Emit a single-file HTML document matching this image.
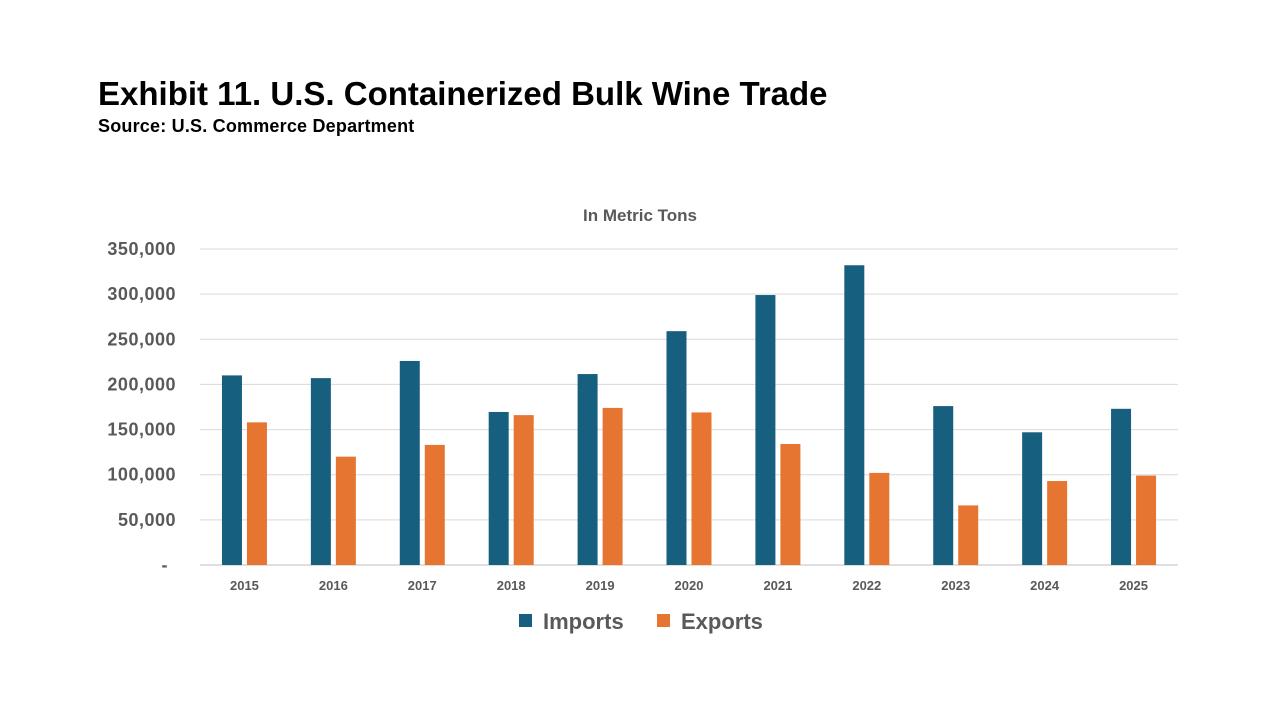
<!DOCTYPE html>
<html><head><meta charset="utf-8"><style>
body{margin:0;background:#fff;font-family:"Liberation Sans",Arial,sans-serif;}
#wrap{position:relative;width:1280px;height:720px;overflow:hidden;}
</style></head><body>
<div id="wrap">
<div style="position:absolute;left:98px;top:75px;font-size:33px;font-weight:bold;color:#000;letter-spacing:0px;">Exhibit 11. U.S. Containerized Bulk Wine Trade</div>
<div style="position:absolute;left:98px;top:116px;font-size:18px;font-weight:bold;color:#000;letter-spacing:0.2px;">Source: U.S. Commerce Department</div>
<svg id="chart" width="1280" height="720" style="position:absolute;left:0;top:0"></svg>
</div>
<script>
const categories=["2015","2016","2017","2018","2019","2020","2021","2022","2023","2024","2025"];
const imports=[210000,207000,226000,169500,211500,259000,299000,332000,176000,147000,173000];
const exportsV=[158000,120000,133000,166000,174000,169000,134000,102000,66000,93000,99000];
const ticks=[0,50000,100000,150000,200000,250000,300000,350000];
const tickLabels=["-","50,000","100,000","150,000","200,000","250,000","300,000","350,000"];
const NS="http://www.w3.org/2000/svg";
const svg=document.getElementById('chart');
const x0=200,x1=1178,yBase=565,yTop=249,yMax=350000;
const y=v=>yBase-(v/yMax)*(yBase-yTop);
const band=(x1-x0)/categories.length;
const cx=i=>x0+band*(i+0.5);
function mk(t,a){const e=document.createElementNS(NS,t);for(const k in a)e.setAttribute(k,a[k]);svg.appendChild(e);return e;}
const ct=mk('text',{x:640,y:221,'text-anchor':'middle','font-size':17,'font-weight':'bold',fill:'#595959','font-family':'Liberation Sans, Arial, sans-serif'});
ct.textContent='In Metric Tons';


ticks.forEach((t,i)=>{
 const l=mk('line',{x1:x0,x2:x1,y1:y(t),y2:y(t),stroke:i==0?'#bfbfbf':'#d9d9d9','stroke-width':1});
 
 
 const tx=mk('text',{x:i==0?168:176,y:y(t)+6,'text-anchor':'end','font-size':18,'font-weight':'bold',fill:'#595959','font-family':'Liberation Sans, Arial, sans-serif','letter-spacing':'0.5'});
 tx.textContent=tickLabels[i];
 
 
});
const bw=20,gap=5;
categories.forEach((c,i)=>{
 const r1=mk('rect',{x:cx(i)-gap/2-bw,y:y(imports[i]),width:bw,height:yBase-y(imports[i]),fill:'#175f7f'});
 
 
 const r2=mk('rect',{x:cx(i)+gap/2,y:y(exportsV[i]),width:bw,height:yBase-y(exportsV[i]),fill:'#e77532'});
 
 
 const t=mk('text',{x:cx(i),y:590,'text-anchor':'middle','font-size':13,'font-weight':'bold',fill:'#595959','font-family':'Liberation Sans, Arial, sans-serif'});
 t.textContent=c;
 
 
});
const lg=[["Imports","#175f7f",519],["Exports","#e77532",657]];
lg.forEach(([n,col,lx])=>{
 const r=mk('rect',{x:lx,y:614,width:13,height:13,fill:col});
 
 
 const t=mk('text',{x:lx+24,y:629,'font-size':22,'font-weight':'bold',fill:'#595959','font-family':'Liberation Sans, Arial, sans-serif'});
 t.textContent=n;
 
 
});
</script>
</body></html>
